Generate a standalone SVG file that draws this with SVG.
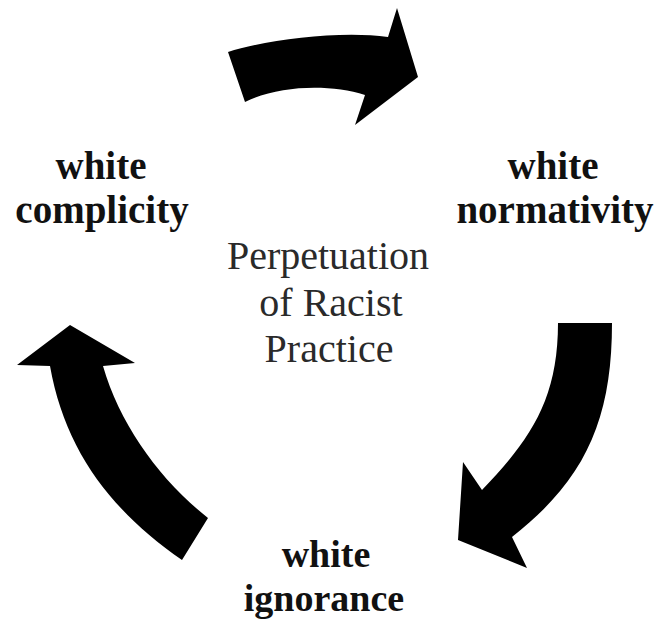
<svg xmlns="http://www.w3.org/2000/svg" width="658" height="624" viewBox="0 0 658 624">
<style>
.lbl{font-family:"Liberation Serif","Times New Roman",serif;font-weight:bold;font-size:39px;fill:#111;text-anchor:middle}
.lbl2{font-family:"Liberation Serif","Times New Roman",serif;font-weight:bold;font-size:38px;fill:#111;text-anchor:middle}
.ctr{font-family:"Liberation Serif","Times New Roman",serif;font-size:40px;fill:#2a2a2a;text-anchor:middle}
.arr{fill:#000}
</style>
<rect width="658" height="624" fill="#fff"/>
<g id="connectors">
<path class="arr" d="M228,52 C265,40 340,30 388,37 L397,8 L418,77 L355,125 L365,95 C330,84 280,85 245,102 Z"/>
<path class="arr" d="M558,323 L612,323 C612,420 585,480 512,537 L527,568 L458,540 L463,462 L482,490 C530,440 558,400 558,323 Z"/>
<path class="arr" d="M70,325 L135,363 L103,366 C120,425 160,480 208,518 L182,560 C110,510 65,450 50,366 L17,365 Z"/>
</g>
<g id="center">
<text class="ctr" x="328" y="269">Perpetuation</text>
<text class="ctr" x="331" y="316">of Racist</text>
<text class="ctr" x="329" y="362">Practice</text>
</g>
<g id="complicity">
<text class="lbl" x="101" y="179">white</text>
<text class="lbl" x="102" y="223">complicity</text>
</g>
<g id="normativity">
<text class="lbl" x="553" y="179">white</text>
<text class="lbl" x="555" y="223">normativity</text>
</g>
<g id="ignorance">
<text class="lbl2" x="326" y="567">white</text>
<text class="lbl2" x="324" y="611">ignorance</text>
</g>
</svg>
